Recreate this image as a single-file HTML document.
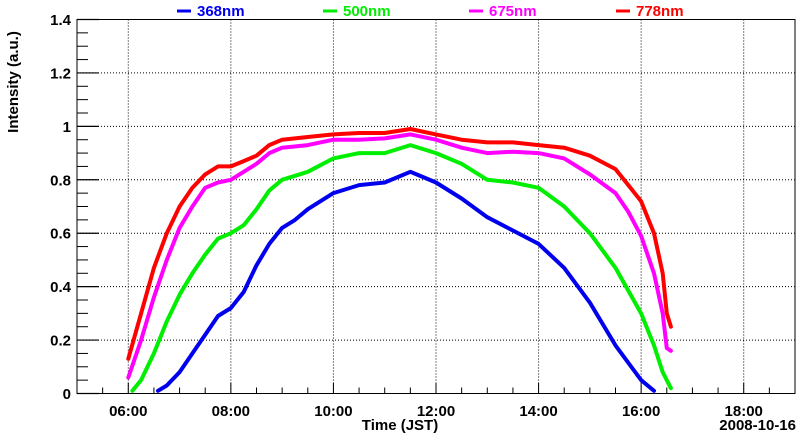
<!DOCTYPE html>
<html><head><meta charset="utf-8"><style>
body{margin:0;background:#fff}
svg{display:block;font-family:"Liberation Sans",sans-serif;font-weight:bold}
</style></head><body>
<svg id="c" width="800" height="434"></svg>
<script>
const hours = ["06:00","08:00","10:00","12:00","14:00","16:00","18:00"];
const yTicks = [0,0.2,0.4,0.6,0.8,1,1.2,1.4];
const yTickLabels = ["0","0.2","0.4","0.6","0.8","1","1.2","1.4"];
const seriesNames = ["368nm","500nm","675nm","778nm"];
const seriesColors = ["#0000ee","#00ee00","#ff00ff","#ff0000"];
const t368 = [6.58,6.75,7,7.25,7.5,7.75,8,8.25,8.5,8.75,9,9.25,9.5,10,10.5,11,11.5,11.75,12,12.5,13,13.5,14,14.5,15,15.5,16,16.25];
const v368 = [0.01,0.03,0.08,0.15,0.22,0.29,0.32,0.38,0.48,0.56,0.62,0.65,0.69,0.75,0.78,0.79,0.83,0.81,0.79,0.73,0.66,0.61,0.56,0.47,0.34,0.18,0.05,0.01];
const t500 = [6.08,6.25,6.5,6.75,7,7.25,7.5,7.75,8,8.25,8.5,8.75,9,9.5,10,10.5,11,11.5,12,12.5,13,13.5,14,14.5,15,15.5,16,16.25,16.42,16.58];
const v500 = [0.01,0.05,0.15,0.27,0.37,0.45,0.52,0.58,0.6,0.63,0.69,0.76,0.8,0.83,0.88,0.9,0.9,0.93,0.9,0.86,0.8,0.79,0.77,0.7,0.6,0.47,0.3,0.18,0.08,0.02];
const t675 = [6,6.25,6.5,6.75,7,7.25,7.5,7.75,8,8.25,8.5,8.75,9,9.5,10,10.5,11,11.5,12,12.5,13,13.5,14,14.5,15,15.5,15.75,16,16.25,16.42,16.5,16.58];
const v675 = [0.06,0.2,0.36,0.5,0.62,0.7,0.77,0.79,0.8,0.83,0.86,0.9,0.92,0.93,0.95,0.95,0.955,0.97,0.95,0.92,0.9,0.905,0.9,0.88,0.82,0.75,0.68,0.59,0.45,0.3,0.17,0.16];
const t778 = [6,6.25,6.5,6.75,7,7.25,7.5,7.75,8,8.25,8.5,8.75,9,9.5,10,10.5,11,11.5,12,12.5,13,13.5,14,14.5,15,15.5,15.75,16,16.25,16.42,16.5,16.58];
const v778 = [0.13,0.3,0.47,0.6,0.7,0.77,0.82,0.85,0.85,0.87,0.89,0.93,0.95,0.96,0.97,0.975,0.975,0.99,0.97,0.95,0.94,0.94,0.93,0.92,0.89,0.84,0.78,0.72,0.6,0.45,0.3,0.25];
const seriesT = [t368,t500,t675,t778];
const seriesV = [v368,v500,v675,v778];

const NS="http://www.w3.org/2000/svg", svg=document.getElementById('c');
const L=77,R=795,T=19.5,B=393.5, tMin=5, tMax=19, vMax=1.4;
const X=t=>L+(t-tMin)/(tMax-tMin)*(R-L);
const Y=v=>B-v/vMax*(B-T);
function mk(tag,attrs,parent){const e=document.createElementNS(NS,tag);for(const k in attrs)e.setAttribute(k,attrs[k]);(parent||svg).appendChild(e);return e;}

hours.forEach((h,i)=>{const x=X(6+2*i);
 const g=mk('line',{x1:x,x2:x,y1:T,y2:B,stroke:'#000','stroke-width':1,'stroke-dasharray':'1,2'});
 
 
 const tx=mk('text',{x:x,y:416,'text-anchor':'middle','font-size':15});tx.textContent=h;
 
 
});
yTicks.forEach((v,i)=>{const y=Y(v);
 if(v>0&&v<vMax){const g=mk('line',{x1:L,x2:R,y1:y,y2:y,stroke:'#000','stroke-width':1,'stroke-dasharray':'1,2'});
 
 }
 const tk=mk('line',{x1:L,x2:L+22,y1:y,y2:y,stroke:'#000','stroke-width':1.2});
 
 
 const tx=mk('text',{x:71,y:y+5.5,'text-anchor':'end','font-size':15});tx.textContent=yTickLabels[i];
 
 
});
for(let v=0.05;v<vMax;v+=0.05){if(Math.abs(v/0.2-Math.round(v/0.2))<0.01)continue;
 const y=Y(v);const tk=mk('line',{x1:L,x2:L+11,y1:y,y2:y,stroke:'#000','stroke-width':1});
 
 }
for(let t=5.5;t<tMax;t+=0.5){const x=X(t);const big=Math.abs(t-Math.round(t))<0.01&&Math.round(t)%2==0;
 const tk=mk('line',{x1:x,x2:x,y1:B,y2:B-(big?11:6),stroke:'#000','stroke-width':1});
 
 }
const fr=mk('rect',{x:L,y:T,width:R-L,height:B-T,fill:'none',stroke:'#000','stroke-width':1});



seriesT.forEach((ts,i)=>{
 const d=ts.map((t,j)=>(j?'L':'M')+X(t).toFixed(1)+','+Y(seriesV[i][j]).toFixed(1)).join(' ');
 const p=mk('path',{d:d,fill:'none',stroke:seriesColors[i],'stroke-width':4,'stroke-linejoin':'round','stroke-linecap':'round'});
 
 
});

const lx=[177,323,469,616];
seriesNames.forEach((n,i)=>{
 const l=mk('line',{x1:lx[i],x2:lx[i]+14,y1:11,y2:11,stroke:seriesColors[i],'stroke-width':3});
 
 
 const tx=mk('text',{x:lx[i]+20,y:16,'font-size':15,fill:seriesColors[i]});tx.textContent=n;
 
 
});
const xt=mk('text',{x:400,y:430,'text-anchor':'middle','font-size':15});xt.textContent='Time (JST)';


const dt=mk('text',{x:796,y:430,'text-anchor':'end','font-size':15});dt.textContent='2008-10-16';


const yt=mk('text',{x:0,y:0,'text-anchor':'middle','font-size':15,transform:'translate(18,82) rotate(-90)'});yt.textContent='Intensity (a.u.)';


</script>
</body></html>
